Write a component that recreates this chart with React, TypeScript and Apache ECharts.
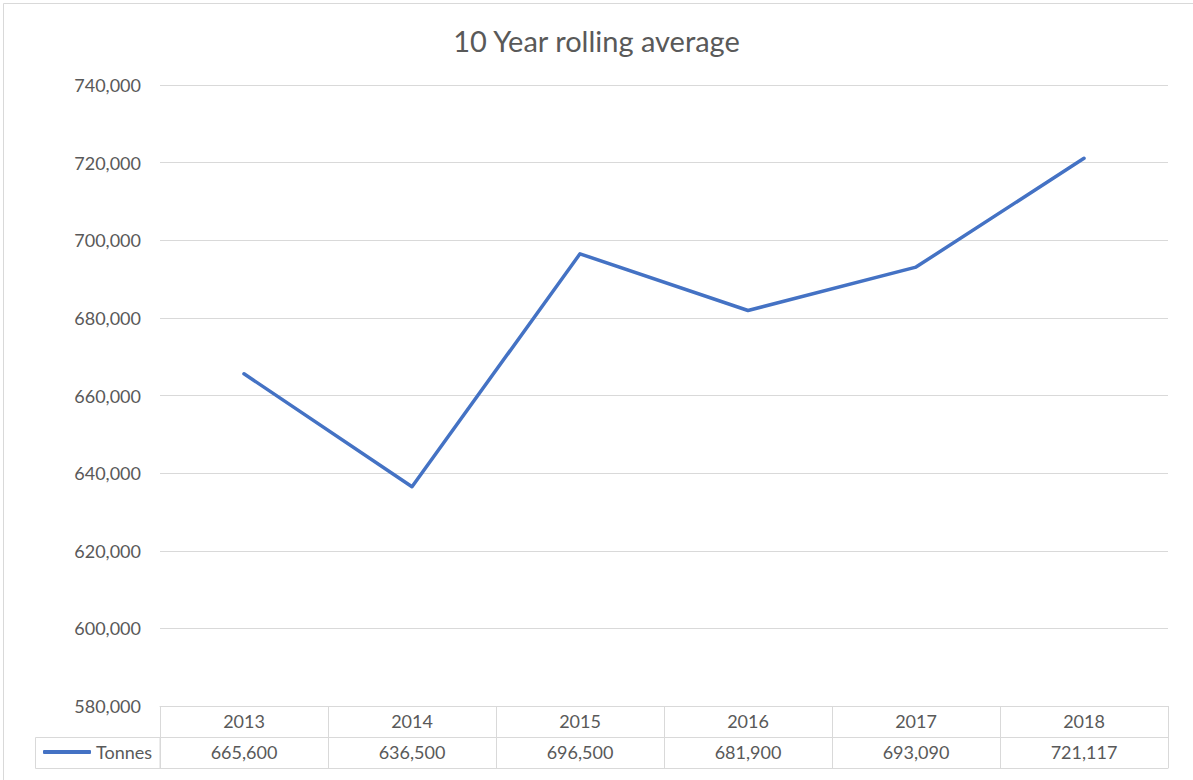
import React, { useEffect, useRef } from "react";
import * as echarts from "echarts";

const title = "10 Year rolling average";
const seriesName = "Tonnes";
const years = ["2013", "2014", "2015", "2016", "2017", "2018"];
const tonnes = [665600, 636500, 696500, 681900, 693090, 721117];
const yMin = 580000;
const yMax = 740000;
const yStep = 20000;

const fmt = (v: number) => v.toLocaleString("en-US");

export default function App() {
  const ref = useRef<HTMLDivElement>(null);
  useEffect(() => {
    if (!ref.current) return;
    const chart = echarts.init(ref.current, undefined, { renderer: "svg" });
    const grey = "#D9D9D9";
    const txt = "#595959";
    const font = "Lato, 'Open Sans', sans-serif";
    chart.setOption({
      animation: false,
      backgroundColor: "#ffffff",
      textStyle: { fontFamily: font },
      title: {
        text: title,
        left: "center",
        top: 21,
        textStyle: { fontSize: 29, fontWeight: "normal", color: txt, fontFamily: font },
      },
      legend: {
        left: 43,
        top: 743,
        padding: 0,
        icon: "roundRect",
        itemWidth: 48,
        itemHeight: 4,
        textStyle: { fontSize: 18, color: txt, fontFamily: font },
        data: [seriesName],
      },
      grid: { left: 160, right: 25, top: 85, bottom: 74, containLabel: false },
      xAxis: [
        {
          type: "category",
          data: years,
          position: "bottom",
          axisLine: { show: true, lineStyle: { color: grey, width: 1 } },
          axisTick: { show: true, length: 62, lineStyle: { color: grey, width: 1 } },
          axisLabel: { margin: 6, fontSize: 18, color: txt, fontFamily: font },
          splitLine: { show: false },
        },
        {
          type: "category",
          data: tonnes.map(fmt),
          position: "bottom",
          offset: 31,
          axisLine: { show: true, lineStyle: { color: grey, width: 1 } },
          axisTick: { show: false },
          axisLabel: { margin: 6, fontSize: 18, color: txt, fontFamily: font },
        },
        {
          type: "category",
          data: years,
          position: "bottom",
          offset: 62,
          axisLine: { show: true, lineStyle: { color: grey, width: 1 } },
          axisTick: { show: false },
          axisLabel: { show: false },
        },
      ],
      yAxis: {
        type: "value",
        min: yMin,
        max: yMax,
        interval: yStep,
        axisLine: { show: false },
        axisTick: { show: false },
        axisLabel: { margin: 19, fontSize: 18, color: txt, fontFamily: font, formatter: (v: number) => fmt(v) },
        splitLine: { show: true, lineStyle: { color: grey, width: 1 } },
      },
      series: [
        {
          name: seriesName,
          type: "line",
          data: tonnes,
          xAxisIndex: 0,
          showSymbol: false,
          symbol: "none",
          itemStyle: { color: "#4472C4" },
          lineStyle: { color: "#4472C4", width: 3.5, cap: "round", join: "round" },
        },
      ],
      graphic: [
        {
          type: "rect",
          shape: { x: 3.5, y: 3.5, width: 1300, height: 900 },
          style: { fill: "none", stroke: grey, lineWidth: 1 },
          silent: true,
        },
        {
          type: "rect",
          shape: { x: 35.5, y: 737.5, width: 124.5, height: 31 },
          style: { fill: "none", stroke: grey, lineWidth: 1 },
          silent: true,
        },
      ],
    });
    return () => chart.dispose();
  }, []);
  return (
    <div
      ref={ref}
      style={{ position: "fixed", left: 0, top: 0, width: 1193, height: 780 }}
    />
  );
}
